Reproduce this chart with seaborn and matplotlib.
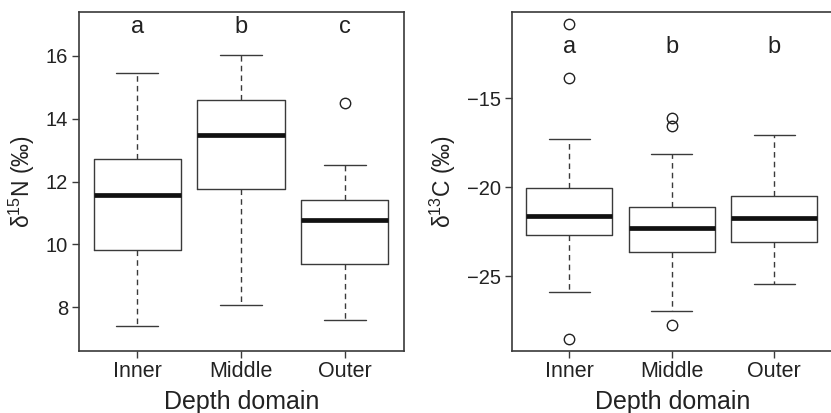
import numpy as np
import matplotlib
matplotlib.use("Agg")
import matplotlib.pyplot as plt
import seaborn as sns

# ---- data ----
groups = ["Inner", "Middle", "Outer"]

# delta 15N panel
n15_whislo = [7.39, 8.08, 7.61]
n15_q1 = [9.81, 11.76, 9.38]
n15_med = [11.56, 13.47, 10.77]
n15_q3 = [12.73, 14.60, 11.41]
n15_whishi = [15.45, 16.03, 12.53]
n15_fliers = [[], [], [14.5]]
n15_letters = ["a", "b", "c"]
n15_letter_y = 16.92
n15_yticks = [8, 10, 12, 14, 16]

# delta 13C panel
c13_whislo = [-25.92, -26.95, -25.47]
c13_q1 = [-22.68, -23.63, -23.09]
c13_med = [-21.64, -22.27, -21.76]
c13_q3 = [-20.07, -21.14, -20.50]
c13_whishi = [-17.31, -18.13, -17.05]
c13_fliers = [[-10.82, -13.84, -28.53], [-16.11, -16.56, -27.76], []]
c13_letters = ["a", "b", "b"]
c13_letter_y = -12.1
c13_yticks = [-25, -20, -15]

# ---- style ----
sns.set_style("ticks")
plt.rcParams["font.family"] = ["Liberation Sans", "DejaVu Sans"]
plt.rcParams["mathtext.fontset"] = "custom"
plt.rcParams["mathtext.rm"] = "Liberation Sans"
plt.rcParams["mathtext.default"] = "regular"

frame_col = "#3a3a3a"
text_col = "#222222"


def make_stats(whislo, q1, med, q3, whishi, fliers):
    stats = []
    for i in range(len(med)):
        stats.append({"whislo": whislo[i], "q1": q1[i], "med": med[i],
                      "q3": q3[i], "whishi": whishi[i],
                      "fliers": np.array(fliers[i])})
    return stats


def draw_panel(ax, stats, letters, letter_y, yticks, ylim):
    ax.bxp(stats, positions=range(len(groups)), widths=0.84, capwidths=0.4,
           boxprops=dict(color=frame_col, linewidth=1.0),
           whiskerprops=dict(color=frame_col, linewidth=1.0, linestyle=(0, (4, 3))),
           capprops=dict(color=frame_col, linewidth=1.0),
           medianprops=dict(color="#111111", linewidth=3.4, solid_capstyle="butt"),
           flierprops=dict(marker="o", markersize=7.5, markerfacecolor="none",
                           markeredgecolor="#222222", markeredgewidth=1.0))
    for i, lab in enumerate(letters):
        ax.text(i, letter_y, lab, ha="center", va="center", fontsize=17, color=text_col)
    ax.set_xlim(-0.56, 2.57)
    ax.set_ylim(*ylim)
    ax.set_xticks(range(len(groups)))
    ax.set_xticklabels(groups)
    ax.set_yticks(yticks)
    ax.tick_params(axis="both", direction="out", length=5, width=1.0,
                   color=frame_col, labelsize=14.5, labelcolor=text_col, pad=3)
    ax.tick_params(axis="x", labelsize=15.5, pad=2)
    for sp in ax.spines.values():
        sp.set_color(frame_col)
        sp.set_linewidth(1.2)
    ax.set_xlabel("Depth domain", fontsize=18, color=text_col, labelpad=6)


fig = plt.figure(figsize=(8.31, 4.13), dpi=100)
W, H = 831.0, 413.0

ax1 = fig.add_axes([79 / W, (H - 351) / H, 325 / W, 339 / H])
draw_panel(ax1, make_stats(n15_whislo, n15_q1, n15_med, n15_q3, n15_whishi, n15_fliers),
           n15_letters, n15_letter_y, n15_yticks, (6.61, 17.4))
fig.text(22 / W, 1 - 182 / H, "δ$^{15}$N (‰)", rotation=90, ha="center", va="center",
         fontsize=16.5, color=text_col)

ax2 = fig.add_axes([511.7 / W, (H - 351) / H, 321 / W, 339 / H])
draw_panel(ax2, make_stats(c13_whislo, c13_q1, c13_med, c13_q3, c13_whishi, c13_fliers),
           c13_letters, c13_letter_y, c13_yticks, (-29.22, -10.14))
fig.text(443 / W, 1 - 182 / H, "δ$^{13}$C (‰)", rotation=90, ha="center", va="center",
         fontsize=16.5, color=text_col)

fig.savefig("out.png", dpi=100)
